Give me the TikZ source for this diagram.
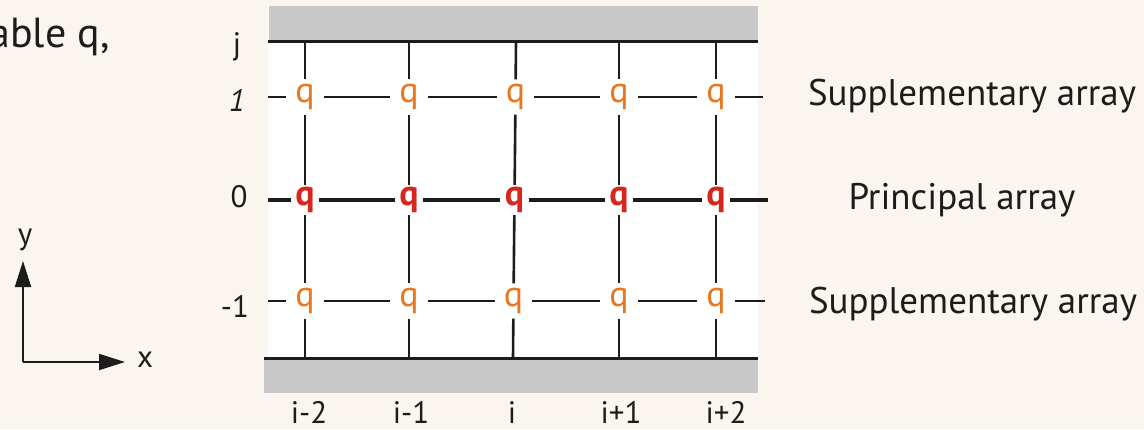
\documentclass[tikz,border=0pt]{standalone}
\usepackage{fontspec}
\setmainfont{PT Sans}
\usetikzlibrary{arrows.meta}
\definecolor{bgc}{RGB}{250,246,239}
\definecolor{band}{RGB}{200,200,200}
\definecolor{qor}{RGB}{232,119,34}
\definecolor{qred}{RGB}{215,38,30}
\definecolor{ink}{RGB}{28,28,28}
\tikzset{
  sq/.style={rectangle,inner sep=0pt,minimum width=37pt,minimum height=35pt,text=qor,font=\fontsize{36}{36}\selectfont},
  pq/.style={rectangle,inner sep=0pt,minimum width=28pt,minimum height=30pt,text=qred,font=\fontsize{36}{36}\selectfont\bfseries},
  vline/.style={draw=ink,line width=2.6pt},
  sline/.style={draw=ink,line width=2.2pt},
  pline/.style={draw=ink,line width=4.5pt},
  frameline/.style={draw=ink,line width=3pt},
  lab/.style={text=ink,font=\fontsize{31}{31}\selectfont,inner sep=0pt},
  rlab/.style={text=ink,font=\fontsize{37}{37}\selectfont,inner sep=0pt,anchor=base},
  axisline/.style={draw=ink,line width=2pt,-{Triangle[length=26pt,width=16pt]}}
}
\begin{document}
\begin{tikzpicture}[x=1pt,y=-1pt]
\fill[bgc] (0,0) rectangle (1144,429);
\useasboundingbox (0,0) rectangle (1144,429);
% panel and bands
\fill[white] (268,41) rectangle (758,358);
\fill[band] (269,6) rectangle (758,41);
\fill[band] (264,358) rectangle (758,393);
% grid nodes
\foreach \c/\xt/\xa/\xp/\xb/\xu in {1/305/305/305/305/305,2/409/409/409/409/409,3/516/515.5/514.5/513.5/513,4/619/619/619/619/619,5/716/716/716/716/716}{
  \coordinate (t\c) at (\xt,41);
  \coordinate (u\c) at (\xu,358);
  \node[sq] (a\c) at (\xa,97) {q};
  \node[pq] (p\c) at (\xp,200) {q};
  \node[sq] (b\c) at (\xb,301) {q};
  \draw[vline] (t\c) -- (a\c);
  \draw[vline] (a\c) -- (p\c);
  \draw[vline] (p\c) -- (b\c);
  \draw[vline] (b\c) -- (u\c);
}
% row line ends
\coordinate (La) at (268,97);  \coordinate (Ra) at (763,97);
\coordinate (Lp) at (268,200); \coordinate (Rp) at (768,200);
\coordinate (Lb) at (268,301); \coordinate (Rb) at (765,301);
\draw[sline] (La) -- (a1) (a1) -- (a2) (a2) -- (a3) (a3) -- (a4) (a4) -- (a5) (a5) -- (Ra);
\draw[pline] (Lp) -- (p1) (p1) -- (p2) (p2) -- (p3) (p3) -- (p4) (p4) -- (p5) (p5) -- (Rp);
\draw[sline] (Lb) -- (b1) (b1) -- (b2) (b2) -- (b3) (b3) -- (b4) (b4) -- (b5) (b5) -- (Rb);
% frame lines
\coordinate (T0) at (268,41); \coordinate (T1) at (758,41);
\coordinate (B0) at (264,358); \coordinate (B1) at (758,358);
\draw[frameline] (T0) -- (T1);
\draw[frameline] (B0) -- (B1);
% left labels
\node[lab] (lj) at (237,47) {j};
\node[lab] (l1) at (237,100) {\itshape 1};
\node[lab] (l0) at (239,197) {0};
\node[lab] (lm) at (235,306) {-1};
% bottom labels
\node[lab,anchor=base] (ci2) at (309,423) {i-2};
\node[lab,anchor=base] (ci1) at (411,423) {i-1};
\node[lab,anchor=base] (ci) at (512,423) {i};
\node[lab,anchor=base] (cj1) at (621,423) {i+1};
\node[lab,anchor=base] (cj2) at (726,423) {i+2};
% right labels
\node[rlab] (sa1) at (972,105) {Supplementary array};
\node[rlab] (pa) at (962,209) {Principal array};
\node[rlab] (sa2) at (973,313) {Supplementary array};
% top-left text
\node[text=ink,font=\fontsize{42}{42}\selectfont,inner sep=0pt,anchor=base east] (tl) at (110,47) {able q,};
% axes
\coordinate (O) at (23,362);
\coordinate (ytip) at (23,261);
\coordinate (xtip) at (125,362);
\draw[axisline] (O) -- (ytip);
\draw[axisline] (O) -- (xtip);
\node[lab] (ly) at (25,240) {y};
\node[lab] (lx) at (145,360) {x};
\end{tikzpicture}
\end{document}
